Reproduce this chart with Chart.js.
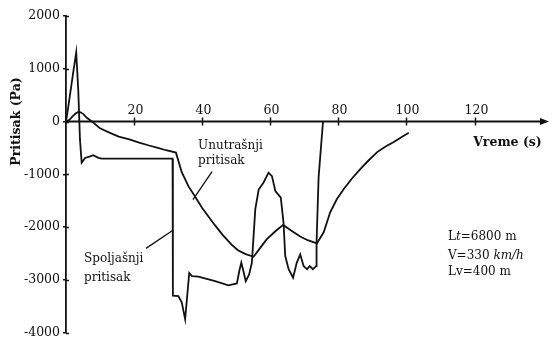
<!DOCTYPE html>
<html>
<head>
<meta charset="utf-8">
<script src="https://cdn.jsdelivr.net/npm/chart.js@4"></script>
<style>
  html, body { margin: 0; padding: 0; background: #fff; }
  #wrap { width: 552px; height: 343px; }
</style>
</head>
<body>
<div id="wrap"><canvas id="c" width="552" height="343"></canvas></div>
<script>
// Spoljašnji pritisak (external pressure), time in s, pressure in Pa
const TIME_EXT = [0, 0.7, 2.1, 3.0, 3.6, 4.1, 4.6, 5.6, 7.1, 8.0, 9.5, 10.5, 20, 31.3,
  31.4, 33.0, 34.0, 35.0, 36.2, 37.0, 38.9, 43.8, 47.7, 50.2, 50.9, 51.5, 52.1, 52.8,
  53.8, 54.6, 55.6, 56.6, 58.0, 59.5, 60.5, 61.5, 63.1, 63.9, 64.4, 65.4, 66.7, 67.8,
  68.8, 69.8, 70.8, 71.6, 72.5, 73.5, 73.6, 74.2, 75.5];
const P_EXT = [0, 290, 920, 1310, 600, -340, -780, -690, -660, -640, -690, -705, -705, -705,
  -3300, -3310, -3430, -3750, -2870, -2930, -2940, -3025, -3105, -3070, -2835, -2675, -2835, -3025,
  -2900, -2675, -1665, -1290, -1160, -970, -1035, -1320, -1445, -1920, -2550, -2800, -2960, -2675,
  -2520, -2740, -2800, -2740, -2800, -2740, -2300, -1060, 0];

// Unutrašnji pritisak (internal pressure)
const TIME_INT = [0, 0.6, 1.2, 2.0, 2.8, 3.6, 4.3, 5.1, 6.1, 8.0, 10.0, 12.9, 15.5, 18.6, 21.5, 24.4, 27.0, 29.4, 32.3,
  34.0, 36.0, 38.0, 40.0, 43.8, 46.0, 48.7, 50.5, 52.6, 55.1, 57.0, 59.0, 61.5, 63.8,
  66.0, 68.8, 71.0, 73.7, 75.7, 77.6, 79.5, 81.6, 84.0, 86.5, 89.0, 91.4, 94.0, 96.3, 98.5, 100.7];
const P_INT = [0, 15, 45, 100, 150, 180, 175, 140, 70, -20, -130, -215, -285, -340, -400, -455, -500, -545, -590,
  -960, -1230, -1430, -1640, -1970, -2150, -2340, -2440, -2510, -2565, -2400, -2230, -2080, -1960,
  -2060, -2180, -2250, -2310, -2100, -1720, -1480, -1280, -1080, -900, -730, -580, -470, -390, -300, -215];

const X_TICKS = [20, 40, 60, 80, 100, 120];
const X_TITLE = 'Vreme (s)';
const Y_TITLE = 'Pritisak (Pa)';
const PARAM_LINES = [
  [['L', false], ['t', true], ['=6800 m', false]],
  [['V=330 ', false], ['km/h', true]],
  [['Lv=400 m', false]]
];

const ext = TIME_EXT.map((t, i) => ({ x: t, y: P_EXT[i] }));
const int = TIME_INT.map((t, i) => ({ x: t, y: P_INT[i] }));

const INK = '#111';
const SERIF = '"DejaVu Serif", "Liberation Serif", serif';

// Axis cross at zero, arrowed time axis with labels above it, captions and leader lines
const decorations = {
  id: 'decorations',
  afterDraw(chart) {
    const { ctx, scales: { x, y } } = chart;
    const X = v => x.getPixelForValue(v);
    const Y = v => y.getPixelForValue(v);
    const y0 = Y(0);
    ctx.save();
    ctx.strokeStyle = INK;
    ctx.fillStyle = INK;

    // time axis with arrow
    const xEnd = chart.width - 3;
    ctx.lineWidth = 2;
    ctx.beginPath();
    ctx.moveTo(x.left, y0);
    ctx.lineTo(xEnd - 6, y0);
    ctx.stroke();
    ctx.beginPath();
    ctx.moveTo(xEnd, y0);
    ctx.lineTo(xEnd - 9, y0 - 3.5);
    ctx.lineTo(xEnd - 9, y0 + 3.5);
    ctx.closePath();
    ctx.fill();

    // time ticks and labels
    ctx.lineWidth = 1.5;
    ctx.font = '12.5px ' + SERIF;
    ctx.textAlign = 'center';
    ctx.textBaseline = 'middle';
    X_TICKS.forEach(t => {
      const px = Math.round(X(t)) + 0.5;
      ctx.beginPath();
      ctx.moveTo(px, y0 - 4);
      ctx.lineTo(px, y0 + 4);
      ctx.stroke();
      ctx.fillText(String(t), px + 1, y0 - 11);
    });

    // inner halves of the pressure ticks
    y.ticks.forEach(tk => {
      const py = Math.round(Y(tk.value)) + 0.5;
      ctx.beginPath();
      ctx.moveTo(x.left, py);
      ctx.lineTo(x.left + 3, py);
      ctx.stroke();
    });

    // axis titles
    ctx.font = 'bold 12.5px ' + SERIF;
    ctx.textAlign = 'left';
    ctx.fillText(X_TITLE, X(119.6), Y(-400));
    ctx.save();
    ctx.translate(17, y0);
    ctx.rotate(-Math.PI / 2);
    ctx.textAlign = 'center';
    ctx.fillText(Y_TITLE, 0, 0);
    ctx.restore();

    // curve captions with leader lines
    ctx.font = '12px ' + SERIF;
    ctx.textAlign = 'left';
    ctx.fillText('Unutrašnji', X(38.8), Y(-455));
    ctx.fillText('pritisak', X(38.8), Y(-740));
    ctx.fillText('Spoljašnji', X(5.3), Y(-2600));
    ctx.fillText('pritisak', X(5.3), Y(-2960));
    ctx.lineWidth = 1.3;
    ctx.beginPath();
    ctx.moveTo(X(42.9), Y(-950));
    ctx.lineTo(X(37.3), Y(-1480));
    ctx.moveTo(X(23.5), Y(-2405));
    ctx.lineTo(X(31.3), Y(-2065));
    ctx.stroke();

    // run parameters
    const py = [-2180, -2545, -2860];
    PARAM_LINES.forEach((parts, i) => {
      let px = X(112.2);
      parts.forEach(([txt, it]) => {
        ctx.font = (it ? 'italic ' : '') + '12px ' + SERIF;
        ctx.fillText(txt, px, Y(py[i]));
        px += ctx.measureText(txt).width;
      });
    });
    ctx.restore();
  }
};

new Chart(document.getElementById('c'), {
  type: 'line',
  data: {
    datasets: [
      { label: 'Spoljašnji pritisak', data: ext, borderColor: INK, borderWidth: 1.8,
        pointRadius: 0, tension: 0, fill: false },
      { label: 'Unutrašnji pritisak', data: int, borderColor: INK, borderWidth: 1.8,
        pointRadius: 0, tension: 0, fill: false }
    ]
  },
  options: {
    responsive: false,
    devicePixelRatio: 1,
    animation: false,
    layout: { padding: { top: 16, right: 6, bottom: 9, left: 0 } },
    plugins: { legend: { display: false }, tooltip: { enabled: false } },
    scales: {
      x: { type: 'linear', min: 0, max: 141, display: false },
      y: {
        min: -4000, max: 2000,
        ticks: { stepSize: 1000, color: INK, padding: 3, font: { family: SERIF, size: 12.5 },
                 callback: v => String(v) },
        grid: { drawOnChartArea: false, tickLength: 3, color: INK, lineWidth: 1.5 },
        border: { color: INK, width: 1.8 },
        afterFit(s) { s.width = 66; }
      }
    }
  },
  plugins: [decorations]
});
</script>
</body>
</html>
